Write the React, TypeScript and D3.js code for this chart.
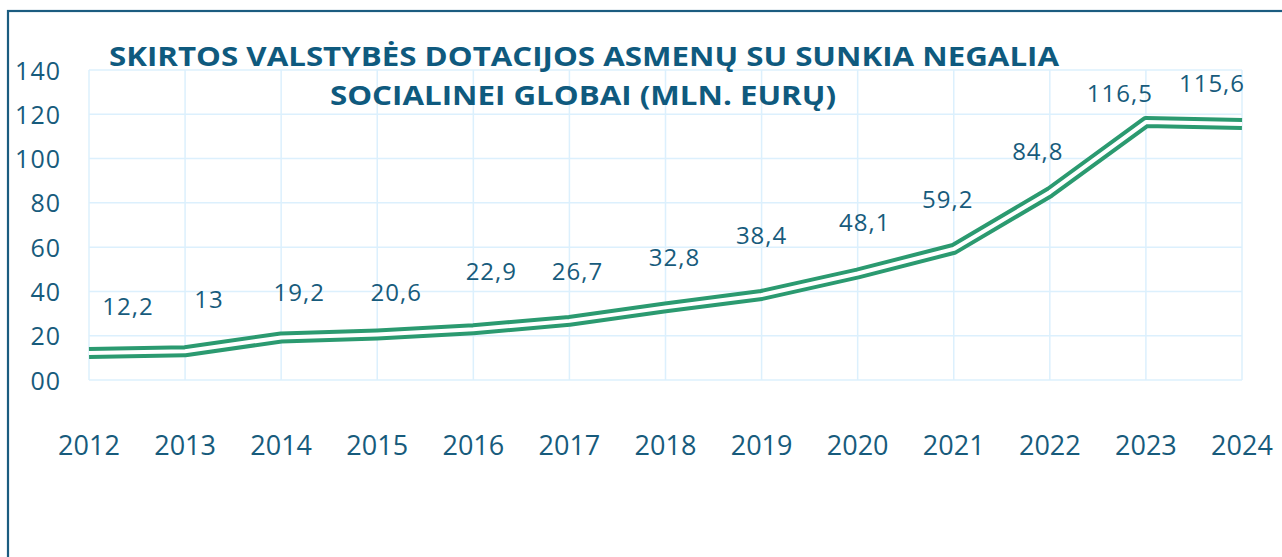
import React from "react";
import * as d3 from "d3";

const years = ["2012","2013","2014","2015","2016","2017","2018","2019","2020","2021","2022","2023","2024"];
const values = [12.2, 13, 19.2, 20.6, 22.9, 26.7, 32.8, 38.4, 48.1, 59.2, 84.8, 116.5, 115.6];
const valueLabels = ["12,2","13","19,2","20,6","22,9","26,7","32,8","38,4","48,1","59,2","84,8","116,5","115,6"];
const yTicks = [0, 20, 40, 60, 80, 100, 120, 140];
const yTickLabels = ["00","20","40","60","80","100","120","140"];
const titleLines = ["SKIRTOS VALSTYBĖS DOTACIJOS ASMENŲ SU SUNKIA NEGALIA", "SOCIALINEI GLOBAI (MLN. EURŲ)"];
// label placement offsets (relative to the point), as in the reference
const labelDx = [39, 24, 18, 19, 18, 8, 9, 0, 7, -6, -12, -26, -30];
const labelDy = [-38, -43, -36, -33, -49, -41, -41, -51, -42, -41, -32, -20, -32];

const W = 1282, H = 557;
const TEXT = "#175b7c";
const GREEN = "#2b9a70";
const GRID = "#dcf0fd";
const FONT = "'Open Sans', 'Noto Sans', sans-serif";

export default function App() {
  const x = d3.scalePoint<string>().domain(years).range([89, 1242]);
  const y = d3.scaleLinear().domain([0, 140]).range([380, 70]);
  const line = d3.line<number>().x((_, i) => x(years[i]) as number).y((d) => y(d));
  const path = line(values) || "";

  return (
    <div style={{ position: "absolute", left: 0, top: 0, width: W, height: H, background: "#fff" }}>
      <svg width={W} height={H} style={{ display: "block" }}>
        <rect x={0} y={0} width={W} height={H} fill="#fff" />
        <rect x={8} y={11} width={W + 10} height={H + 10} fill="none" stroke="#1b5c80" strokeWidth={2.2} />
        {/* grid */}
        {yTicks.map((t) => (
          <line key={"h" + t} x1={x(years[0])} x2={x(years[years.length - 1])} y1={y(t)} y2={y(t)} stroke={GRID} strokeWidth={1.5} />
        ))}
        {years.map((yr) => (
          <line key={"v" + yr} x1={x(yr)} x2={x(yr)} y1={y(0)} y2={y(140)} stroke={GRID} strokeWidth={1.5} />
        ))}
        {/* y labels */}
        {yTicks.map((t, i) => (
          <text key={"yl" + t} x={61} y={y(t) + 9.5} textAnchor="end" fontFamily={FONT} fontSize={25} letterSpacing={1} fill={TEXT}>
            {yTickLabels[i]}
          </text>
        ))}
        {/* x labels */}
        {years.map((yr) => (
          <text key={"xl" + yr} x={x(yr)} y={455} textAnchor="middle" fontFamily={FONT} fontSize={27} fill={TEXT}>
            {yr}
          </text>
        ))}
        {/* double line */}
        <path d={path} fill="none" stroke={GREEN} strokeWidth={12} strokeLinejoin="round" />
        <path d={path} fill="none" stroke="#fff" strokeWidth={4} strokeLinejoin="round" />
        {/* value labels */}
        {values.map((v, i) => (
          <text key={"vl" + i} x={(x(years[i]) as number) + labelDx[i]} y={y(v) + labelDy[i]} textAnchor="middle" fontFamily={FONT} fontSize={24} letterSpacing={1} fill={TEXT}>
            {valueLabels[i]}
          </text>
        ))}
        {/* title */}
        <text x={584} y={66} textAnchor="middle" fontFamily={FONT} fontWeight={700} fontSize={26.5} fill="#0f5a7e" textLength={950} lengthAdjust="spacingAndGlyphs">
          {titleLines[0]}
        </text>
        <text x={583} y={105} textAnchor="middle" fontFamily={FONT} fontWeight={700} fontSize={26.5} fill="#0f5a7e" textLength={506} lengthAdjust="spacingAndGlyphs">
          {titleLines[1]}
        </text>
      </svg>
    </div>
  );
}
